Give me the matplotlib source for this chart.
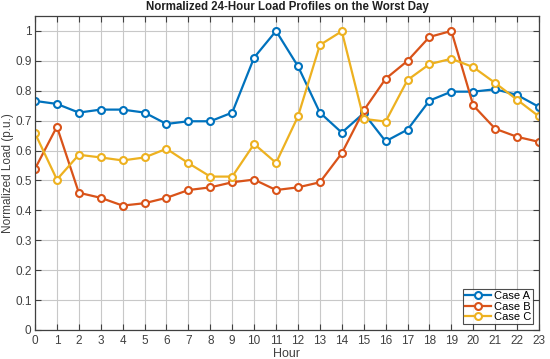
import matplotlib
matplotlib.use("Agg")
import matplotlib.pyplot as plt

hours = list(range(24))
case_a = [0.766, 0.756, 0.727, 0.737, 0.737, 0.727, 0.689, 0.698, 0.698, 0.727, 0.911, 1.0,
          0.882, 0.727, 0.660, 0.725, 0.631, 0.670, 0.767, 0.797, 0.797, 0.805, 0.786, 0.746]
case_b = [0.539, 0.680, 0.459, 0.442, 0.416, 0.424, 0.442, 0.468, 0.477, 0.494, 0.503, 0.468,
          0.477, 0.494, 0.591, 0.734, 0.840, 0.900, 0.980, 1.0, 0.751, 0.673, 0.646, 0.629]
case_c = [0.658, 0.503, 0.586, 0.577, 0.567, 0.577, 0.606, 0.558, 0.513, 0.513, 0.622, 0.559,
          0.714, 0.953, 0.999, 0.706, 0.697, 0.836, 0.889, 0.907, 0.879, 0.826, 0.770, 0.714]
labels = ["Case A", "Case B", "Case C"]
colors = ["#0072BD", "#D95319", "#EDB120"]

plt.rcParams['font.family'] = ['Liberation Sans', 'DejaVu Sans']
fig = plt.figure(figsize=(5.5, 3.59), dpi=100)
ax = fig.add_axes([35/550, 1-330/359, (539-35)/550, (330-16)/359])

for vals, lab, col in zip([case_a, case_b, case_c], labels, colors):
    ax.plot(hours, vals, '-o', color=col, lw=1.6, ms=5, mfc='white', mec=col, mew=1.5, label=lab)

ax.set_xlim(0, 23)
ax.set_ylim(0, 1.05)
ax.set_xticks(hours)
ax.set_yticks([i/10 for i in range(11)])
ax.set_yticklabels(['0', '0.1', '0.2', '0.3', '0.4', '0.5', '0.6', '0.7', '0.8', '0.9', '1'])
ax.grid(True, color='#c8c8c8', lw=0.8)
ax.set_axisbelow(True)
ax.tick_params(direction='in', top=True, right=True, colors='#404040', labelsize=8.5, length=4)
ax.tick_params(axis='y', pad=2.5)
for s in ax.spines.values():
    s.set_color('#404040')
    s.set_linewidth(0.9)
ax.set_xlabel("Hour", fontsize=9, color='#404040', labelpad=1)
ax.set_ylabel("Normalized Load (p.u.)", fontsize=8.5, color='#404040', labelpad=1)
ax.set_title("Normalized 24-Hour Load Profiles on the Worst Day", fontsize=8.3, fontweight='bold', color='#202020', pad=4)
leg = ax.legend(loc='lower right', fontsize=8, frameon=True, fancybox=False, edgecolor='#202020',
                borderpad=0.15, labelspacing=0.05, handlelength=2.3, handletextpad=0.3, borderaxespad=0.55)
leg.get_frame().set_linewidth(0.8)
fig.savefig("out.png", dpi=100)
